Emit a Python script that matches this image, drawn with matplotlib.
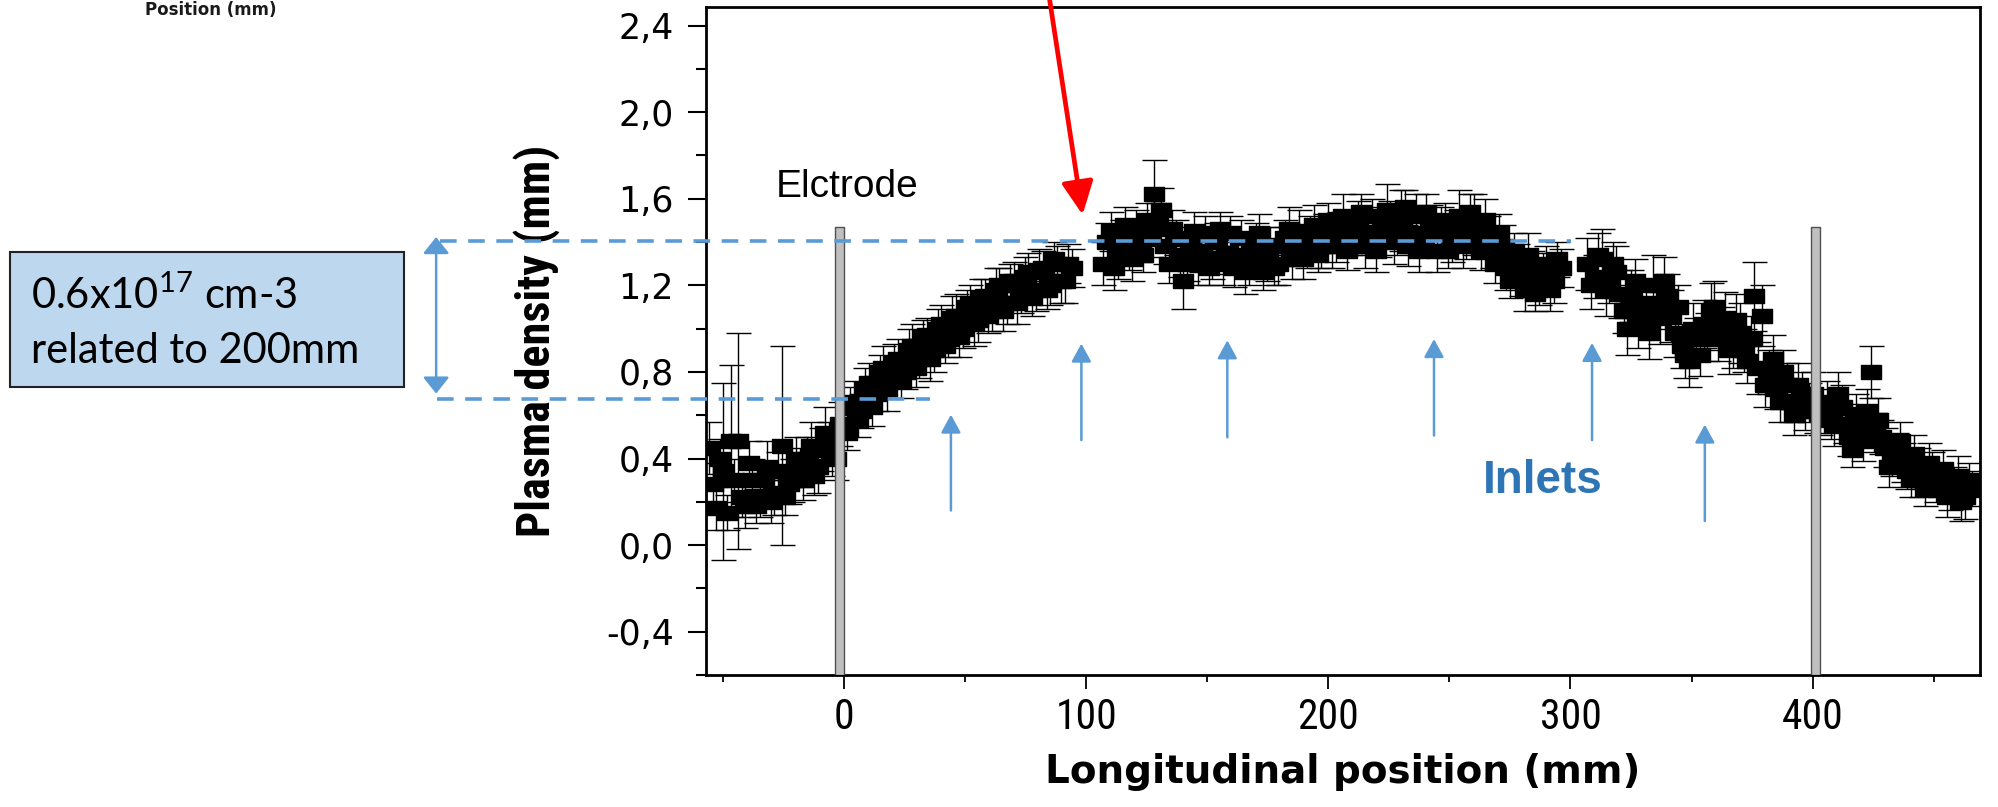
import numpy as np
import matplotlib
matplotlib.use("Agg")
import matplotlib.pyplot as plt
from matplotlib import font_manager as fm
from matplotlib.patches import Rectangle

# ---------------- data ----------------
# longitudinal positions (mm): two interleaved scans, 3 mm pitch each,
# split into five stretches (gaps at the electrode and the two flanges)
x_a = np.arange(-56, 0, 3)
x_b = np.arange(1, 95, 3)
x_c = np.arange(107, 297, 3)
x_d = np.arange(307, 404, 3)
x_e = np.arange(406, 467, 3)

x_a2 = np.arange(-54.5, -1, 3)
x_b2 = np.arange(2.5, 94, 3)
x_c2 = np.arange(108.5, 296, 3)
x_d2 = np.arange(308.5, 403, 3)
x_e2 = np.arange(407.5, 466, 3)

# first scan
y_a = [0.45, 0.17, 0.34, 0.48, 0.48, 0.18, 0.30, 0.22, 0.36, 0.24,
       0.46, 0.28, 0.40, 0.30, 0.46, 0.36, 0.52, 0.42, 0.56]
err_a = [0.12, 0.10, 0.41, 0.35, 0.50, 0.10, 0.10, 0.09, 0.12, 0.10,
         0.46, 0.09, 0.10, 0.09, 0.11, 0.12, 0.12, 0.10, 0.10]

y_b = [0.52, 0.66, 0.62, 0.75, 0.70, 0.82, 0.76, 0.86, 0.80, 0.92,
       0.86, 0.97, 0.90, 1.02, 0.95, 1.06, 1.00, 1.12, 1.04, 1.15,
       1.08, 1.20, 1.12, 1.22, 1.15, 1.26, 1.18, 1.28, 1.20, 1.30,
       1.22, 1.28]
err_b = [0.08, 0.10, 0.08, 0.09, 0.08, 0.10, 0.08, 0.09, 0.08, 0.10,
         0.09, 0.08, 0.10, 0.09, 0.08, 0.10, 0.09, 0.08, 0.10, 0.08,
         0.09, 0.08, 0.10, 0.09, 0.08, 0.09, 0.10, 0.08, 0.09, 0.08,
         0.10, 0.09]

y_c = [1.30, 1.45, 1.35, 1.48, 1.32, 1.40, 1.50, 1.62, 1.55, 1.30,
       1.42, 1.22, 1.38, 1.30, 1.44, 1.32, 1.46, 1.35, 1.28, 1.42,
       1.30, 1.40, 1.26, 1.38, 1.30, 1.42, 1.32, 1.45, 1.36, 1.48,
       1.38, 1.50, 1.40, 1.52, 1.42, 1.50, 1.38, 1.52, 1.42, 1.55,
       1.40, 1.50, 1.38, 1.52, 1.42, 1.48, 1.36, 1.50, 1.40, 1.52,
       1.42, 1.48, 1.36, 1.42, 1.30, 1.38, 1.22, 1.30, 1.18, 1.28,
       1.20, 1.30, 1.22, 1.28]
err_c = [0.10, 0.09, 0.12, 0.08, 0.10, 0.09, 0.08, 0.16, 0.10, 0.09,
         0.08, 0.13, 0.09, 0.10, 0.08, 0.09, 0.08, 0.10, 0.09, 0.08,
         0.10, 0.09, 0.08, 0.09, 0.10, 0.08, 0.09, 0.10, 0.08, 0.09,
         0.10, 0.08, 0.09, 0.10, 0.08, 0.09, 0.10, 0.08, 0.09, 0.12,
         0.10, 0.14, 0.09, 0.10, 0.08, 0.09, 0.10, 0.08, 0.09, 0.12,
         0.10, 0.14, 0.09, 0.10, 0.09, 0.10, 0.08, 0.09, 0.10, 0.08,
         0.09, 0.08, 0.10, 0.09]

y_d = [1.30, 1.24, 1.32, 1.22, 1.26, 1.08, 1.15, 1.02, 1.12, 1.20,
       1.05, 1.15, 0.98, 0.92, 0.85, 0.95, 1.02, 1.08, 0.95, 1.05,
       0.92, 0.98, 0.85, 1.15, 1.06, 0.80, 0.72, 0.80, 0.66, 0.74,
       0.62, 0.70, 0.60]
err_d = [0.12, 0.10, 0.14, 0.10, 0.12, 0.10, 0.12, 0.11, 0.10, 0.14,
         0.12, 0.10, 0.11, 0.10, 0.12, 0.10, 0.11, 0.13, 0.10, 0.12,
         0.10, 0.14, 0.10, 0.16, 0.14, 0.10, 0.09, 0.10, 0.09, 0.10,
         0.09, 0.10, 0.09]

y_e = [0.66, 0.55, 0.64, 0.50, 0.60, 0.48, 0.80, 0.58, 0.45, 0.40,
       0.48, 0.34, 0.42, 0.30, 0.38, 0.28, 0.35, 0.24, 0.32, 0.22,
       0.26]
err_e = [0.10, 0.09, 0.10, 0.09, 0.10, 0.09, 0.12, 0.10, 0.09, 0.08,
         0.09, 0.08, 0.09, 0.08, 0.09, 0.08, 0.09, 0.08, 0.09, 0.10,
         0.08]

# second scan
y_a2 = [0.28, 0.40, 0.15, 0.30, 0.22, 0.38, 0.18, 0.30, 0.20, 0.34,
        0.22, 0.30, 0.36, 0.40, 0.32, 0.44, 0.48, 0.40]
err_a2 = [0.10, 0.09, 0.08, 0.10, 0.09, 0.10, 0.08, 0.09, 0.10, 0.09,
          0.08, 0.10, 0.09, 0.10, 0.09, 0.10, 0.09, 0.10]

y_b2 = [0.64, 0.58, 0.72, 0.64, 0.80, 0.72, 0.84, 0.76, 0.90, 0.82,
        0.96, 0.86, 1.00, 0.92, 1.05, 0.96, 1.10, 1.02, 1.14, 1.06,
        1.18, 1.08, 1.22, 1.12, 1.24, 1.14, 1.27, 1.18, 1.32, 1.22,
        1.30]
err_b2 = [0.09, 0.08, 0.10, 0.09, 0.08, 0.10, 0.09, 0.08, 0.10, 0.09,
          0.08, 0.10, 0.09, 0.08, 0.10, 0.09, 0.08, 0.10, 0.09, 0.08,
          0.10, 0.09, 0.08, 0.10, 0.09, 0.08, 0.10, 0.09, 0.08, 0.10,
          0.09]

y_c2 = [1.40, 1.28, 1.42, 1.36, 1.45, 1.34, 1.42, 1.48, 1.38, 1.46,
        1.34, 1.30, 1.45, 1.36, 1.28, 1.40, 1.30, 1.44, 1.34, 1.26,
        1.36, 1.44, 1.32, 1.28, 1.38, 1.46, 1.38, 1.32, 1.42, 1.34,
        1.44, 1.38, 1.46, 1.36, 1.44, 1.54, 1.44, 1.36, 1.48, 1.50,
        1.44, 1.56, 1.44, 1.36, 1.54, 1.44, 1.46, 1.36, 1.46, 1.38,
        1.54, 1.44, 1.50, 1.36, 1.44, 1.28, 1.36, 1.24, 1.34, 1.16,
        1.26, 1.18, 1.32]
err_c2 = [0.09, 0.10, 0.08, 0.09, 0.10, 0.08, 0.09, 0.10, 0.08, 0.09,
          0.10, 0.08, 0.09, 0.10, 0.08, 0.09, 0.10, 0.08, 0.09, 0.10,
          0.08, 0.09, 0.10, 0.08, 0.09, 0.10, 0.08, 0.09, 0.10, 0.08,
          0.09, 0.10, 0.08, 0.09, 0.10, 0.08, 0.09, 0.10, 0.08, 0.09,
          0.10, 0.08, 0.09, 0.10, 0.08, 0.09, 0.10, 0.08, 0.09, 0.10,
          0.08, 0.09, 0.10, 0.08, 0.09, 0.10, 0.08, 0.09, 0.10, 0.08,
          0.09, 0.10, 0.08]

y_d2 = [1.20, 1.34, 1.18, 1.30, 1.16, 1.00, 1.22, 1.08, 0.98, 1.10,
        1.22, 1.06, 1.10, 0.88, 1.00, 0.88, 0.96, 1.10, 1.00, 0.90,
        1.04, 0.90, 0.95, 0.82, 0.74, 0.86, 0.66, 0.74, 0.60, 0.70,
        0.66, 0.62]
err_d2 = [0.11, 0.10, 0.12, 0.10, 0.11, 0.12, 0.10, 0.11, 0.12, 0.10,
          0.11, 0.12, 0.10, 0.11, 0.12, 0.10, 0.11, 0.12, 0.10, 0.11,
          0.12, 0.10, 0.11, 0.12, 0.10, 0.11, 0.09, 0.10, 0.09, 0.10,
          0.09, 0.10]

y_e2 = [0.58, 0.70, 0.56, 0.44, 0.55, 0.62, 0.52, 0.50, 0.36, 0.44,
        0.38, 0.30, 0.36, 0.26, 0.34, 0.30, 0.22, 0.28, 0.20, 0.30]
err_e2 = [0.09, 0.10, 0.09, 0.08, 0.09, 0.10, 0.09, 0.08, 0.09, 0.08,
          0.09, 0.08, 0.09, 0.08, 0.09, 0.08, 0.09, 0.08, 0.09, 0.08]

# electrodes (x-extent in mm, top in density units)
electrode_spans = [(-3.7, -0.3), (399.4, 403.1)]
electrode_top = 1.47

# gas inlets: x position, arrow tail and tip heights
inlet_x = [44.0, 97.9, 158.2, 243.6, 308.9, 355.5]
inlet_tail = [0.16, 0.485, 0.498, 0.506, 0.485, 0.111]
inlet_tip = [0.603, 0.931, 0.946, 0.952, 0.934, 0.557]

# reference levels of the density step
level_high = 1.407
level_low = 0.676

# axis ticks
x_ticks = [0, 100, 200, 300, 400]
x_tick_labels = ["0", "100", "200", "300", "400"]
x_minor = [-50, 50, 150, 250, 350, 450]
y_ticks = [-0.4, 0.0, 0.4, 0.8, 1.2, 1.6, 2.0, 2.4]
y_tick_labels = ["-0,4", "0,0", "0,4", "0,8", "1,2", "1,6", "2,0", "2,4"]
y_minor = [-0.6, -0.2, 0.2, 0.6, 1.0, 1.4, 1.8, 2.2]

# ---------------- style ----------------
installed = {f.name for f in fm.fontManager.ttflist}
narrow = next((n for n in ["Liberation Sans Narrow", "Roboto Condensed",
                           "DejaVu Sans Condensed"] if n in installed),
              "Liberation Sans")

plt.rcParams["mathtext.fontset"] = "custom"
plt.rcParams["mathtext.rm"] = "Lato"
plt.rcParams["mathtext.it"] = "Lato:italic"
plt.rcParams["mathtext.bf"] = "Lato:bold"

BLUE = "#5B9BD5"

fig = plt.figure(figsize=(19.98, 8.07), dpi=100)
fig.patch.set_facecolor("white")
ax = fig.add_axes([0.35335, 0.16357, 0.63764, 0.82813])

x_all = np.concatenate([x_a, x_b, x_c, x_d, x_e,
                        x_a2, x_b2, x_c2, x_d2, x_e2])
y_all = np.concatenate([y_a, y_b, y_c, y_d, y_e,
                        y_a2, y_b2, y_c2, y_d2, y_e2])
e_all = np.concatenate([err_a, err_b, err_c, err_d, err_e,
                        err_a2, err_b2, err_c2, err_d2, err_e2])

ax.errorbar(x_all, y_all, yerr=e_all, fmt="none", ecolor="black",
            elinewidth=1.0, capsize=9, capthick=1.0, zorder=2)
rect_marker = [(-1, -0.72), (1, -0.72), (1, 0.72), (-1, 0.72), (-1, -0.72)]
ax.plot(x_all, y_all, ls="none", marker=rect_marker, ms=15,
        color="black", mec="black", zorder=3)

ax.set_xlim(-57.2, 469.2)
ax.set_ylim(-0.6, 2.487)

for x0, x1 in electrode_spans:
    ax.add_patch(Rectangle((x0, -0.6), x1 - x0, electrode_top + 0.6,
                           facecolor="#BFBFBF", edgecolor="#505050",
                           lw=1.0, zorder=4))

ax.set_xticks(x_ticks)
ax.set_xticklabels(x_tick_labels, fontfamily=narrow, fontsize=30)
ax.set_xticks(x_minor, minor=True)
ax.set_yticks(y_ticks)
ax.set_yticklabels(y_tick_labels, fontfamily="DejaVu Sans", fontsize=25)
ax.set_yticks(y_minor, minor=True)

ax.tick_params(axis="y", which="major", length=13, width=1.5, pad=10)
ax.tick_params(axis="y", which="minor", length=7, width=1.5)
ax.tick_params(axis="x", which="major", length=10, width=1.3, pad=6)
ax.tick_params(axis="x", which="minor", length=4.7, width=1.3)
for sp in ax.spines.values():
    sp.set_linewidth(2.0)

ax.set_ylabel("Plasma density (mm)", fontfamily=narrow, fontweight="bold",
              fontsize=35)
ax.yaxis.label.set_va("baseline")
ax.yaxis.set_label_coords(-0.1224, 0.5)
ax.set_xlabel("Longitudinal position (mm)", fontfamily="DejaVu Sans",
              fontweight="bold", fontsize=28)
ax.xaxis.label.set_va("baseline")
ax.xaxis.set_label_coords(0.5, -0.1616)

# the axis title is set to span 392 px along the axis
renderer = fig.canvas.get_renderer()
ylab = ax.yaxis.label
span = ylab.get_window_extent(renderer).height
ylab.set_fontsize(35 * 392.0 / span)

# reference levels
dash = (0, (4.6, 3.2))
ax.plot([-167.1, 300.2], [level_high, level_high], color=BLUE, lw=2.6,
        ls=dash, clip_on=False, zorder=6)
ax.plot([-168.2, 35.3], [level_low, level_low], color=BLUE, lw=2.6,
        ls=dash, clip_on=False, zorder=6)
ax.annotate("", xy=(-168.7, 1.423), xytext=(-168.7, 0.700),
            annotation_clip=False,
            arrowprops=dict(arrowstyle="<|-|>,head_length=1.0,head_width=0.8",
                            color=BLUE, lw=1.8, shrinkA=0, shrinkB=0,
                            mutation_scale=10))

# inlet arrows
for xi, t0, t1 in zip(inlet_x, inlet_tail, inlet_tip):
    ax.annotate("", xy=(xi, t1), xytext=(xi, t0),
                arrowprops=dict(arrowstyle="-|>,head_length=1.1,head_width=0.6",
                                color=BLUE, lw=1.8, shrinkA=0, shrinkB=0,
                                mutation_scale=10), zorder=7)

# red pointer to the gap
ax.annotate("", xy=(98.4, 1.526), xytext=(84.8, 2.518), annotation_clip=False,
            arrowprops=dict(arrowstyle="-|>,head_length=2.0,head_width=0.96",
                            color="#FF0000", lw=3.4, shrinkA=0, shrinkB=0,
                            mutation_scale=10), zorder=8)

ax.text(-28.3, 1.608, "Elctrode", fontfamily="Liberation Sans", fontsize=28,
        ha="left", va="baseline", zorder=8)
ax.text(263.8, 0.2386, "Inlets", fontfamily="Liberation Sans",
        fontweight="bold", fontsize=33, color="#2E75B6",
        ha="left", va="baseline", zorder=8)

# explanatory box
fig.add_artist(Rectangle((0.005, 0.5204), 0.1972, 0.1677,
                         transform=fig.transFigure, facecolor="#BDD7EE",
                         edgecolor="#222222", lw=1.5))
fig.text(0.01537, 0.6171, r"0.6x10$^{\mathrm{17}}$ cm-3", fontfamily="Lato",
         fontsize=30, va="baseline", ha="left")
fig.text(0.01537, 0.5498, "related to 200mm", fontfamily="Lato",
         fontsize=30, va="baseline", ha="left")

fig.text(0.1056, 0.9814, "Position (mm)", fontfamily="DejaVu Sans",
         fontweight="bold", fontsize=12, ha="center", va="baseline",
         color="#1a1a1a")

fig.savefig("out.png", dpi=100)
